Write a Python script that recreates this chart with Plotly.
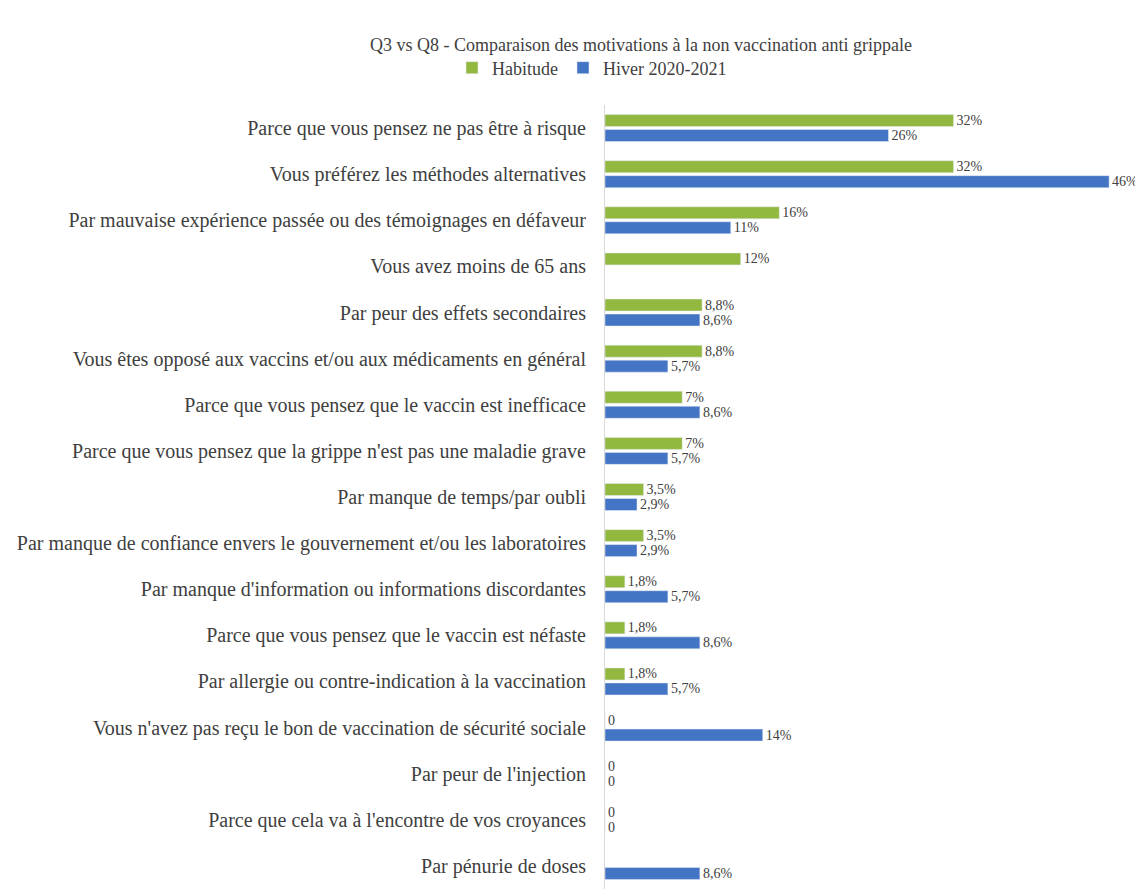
import plotly.graph_objects as go

categories = [
    "Parce que vous pensez ne pas être à risque",
    "Vous préférez les méthodes alternatives",
    "Par mauvaise expérience passée ou des témoignages en défaveur",
    "Vous avez moins de 65 ans",
    "Par peur des effets secondaires",
    "Vous êtes opposé aux vaccins et/ou aux médicaments en général",
    "Parce que vous pensez que le vaccin est inefficace",
    "Parce que vous pensez que la grippe n'est pas une maladie grave",
    "Par manque de temps/par oubli",
    "Par manque de confiance envers le gouvernement et/ou les laboratoires",
    "Par manque d'information ou informations discordantes",
    "Parce que vous pensez que le vaccin est néfaste",
    "Par allergie ou contre-indication à la vaccination",
    "Vous n'avez pas reçu le bon de vaccination de sécurité sociale",
    "Par peur de l'injection",
    "Parce que cela va à l'encontre de vos croyances",
    "Par pénurie de doses",
]

habitude = [31.6, 31.6, 15.8, 12.3, 8.8, 8.8, 7.0, 7.0, 3.5, 3.5, 1.8, 1.8, 1.8, 0, 0, 0, None]
habitude_labels = ["32%", "32%", "16%", "12%", "8,8%", "8,8%", "7%", "7%", "3,5%", "3,5%",
                   "1,8%", "1,8%", "1,8%", "0", "0", "0", ""]

hiver = [25.7, 45.7, 11.4, None, 8.6, 5.7, 8.6, 5.7, 2.9, 2.9, 5.7, 8.6, 5.7, 14.3, 0, 0, 8.6]
hiver_labels = ["26%", "46%", "11%", "", "8,6%", "5,7%", "8,6%", "5,7%", "2,9%", "2,9%",
                "5,7%", "8,6%", "5,7%", "14%", "0", "0", "8,6%"]

font_family = "Liberation Serif, Times New Roman, serif"
W, H = 1135, 881

fig = go.Figure()
fig.add_trace(go.Bar(
    y=categories, x=habitude, orientation="h", name="Habitude",
    marker_color="#92B83F", text=habitude_labels, textposition="outside",
    constraintext="none", cliponaxis=False,
    textfont=dict(size=14, color="#404040", family=font_family),
))
fig.add_trace(go.Bar(
    y=categories, x=hiver, orientation="h", name="Hiver 2020-2021",
    marker_color="#4474C4", text=hiver_labels, textposition="outside",
    constraintext="none", cliponaxis=False,
    textfont=dict(size=14, color="#404040", family=font_family),
))

fig.update_layout(
    width=W, height=H,
    paper_bgcolor="white", plot_bgcolor="white",
    font=dict(family=font_family, color="#404040", size=18),
    title=dict(text="Q3 vs Q8 - Comparaison des motivations à la non vaccination anti grippale",
               x=633 / W, xanchor="center", y=1 - 37 / H, yanchor="middle",
               font=dict(size=18, color="#404040", family=font_family)),
    legend=dict(orientation="h", xref="container", yref="container",
                x=584 / W, xanchor="center", y=1 - 60 / H, yanchor="middle",
                font=dict(size=18, family=font_family), traceorder="normal",
                itemwidth=30),
    barmode="group", bargap=0.35, bargroupgap=0.2,
    margin=dict(l=597, r=3, t=97, b=0, autoexpand=False),
    showlegend=True,
)
fig.update_xaxes(range=[0, 48.5], visible=False)
fig.update_yaxes(autorange="reversed", showline=True, linecolor="#D9D9D9", linewidth=1,
                 ticks="", automargin=False,
                 tickfont=dict(size=20, family=font_family, color="#404040"),
                 ticklabelstandoff=14)

fig.write_html("out.html")
